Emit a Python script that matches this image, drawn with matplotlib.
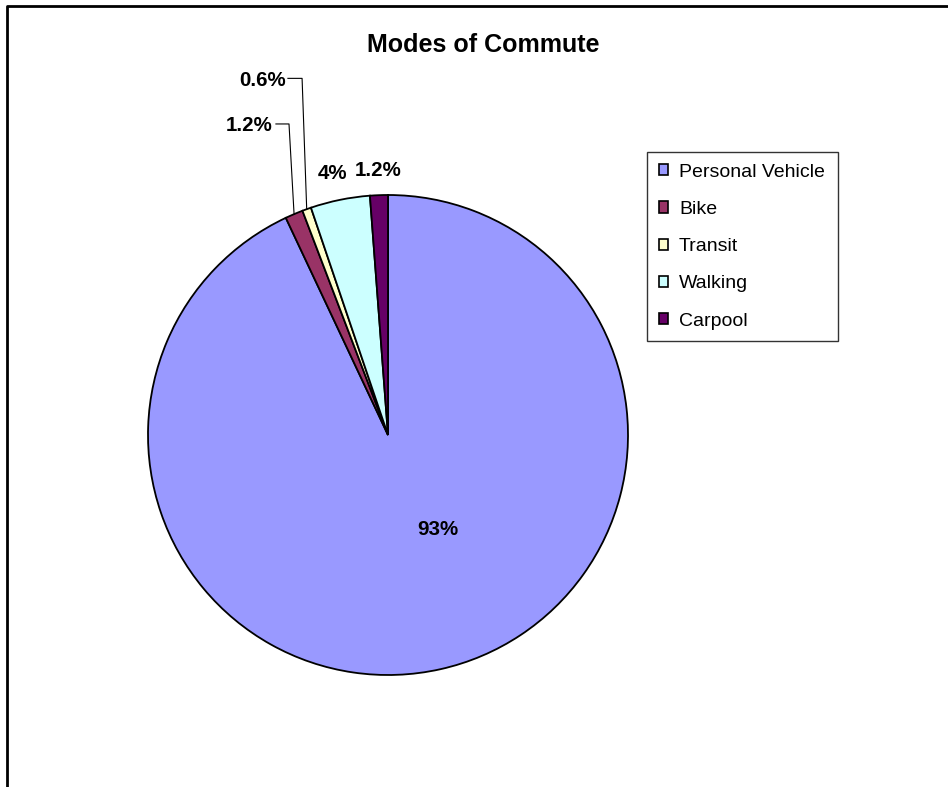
import matplotlib
matplotlib.use("Agg")
import matplotlib.pyplot as plt
from matplotlib.patches import Rectangle
from matplotlib.lines import Line2D
import numpy as np

plt.rcParams['font.family'] = ['Liberation Sans', 'DejaVu Sans']

# data
modes = ["Personal Vehicle", "Bike", "Transit", "Walking", "Carpool"]
shares = [93, 1.2, 0.6, 4, 1.2]
share_labels = ["93%", "1.2%", "0.6%", "4%", "1.2%"]
colors = ["#9999FF", "#993366", "#FFFFCC", "#CCFFFF", "#660066"]

# label layout (pie radius = 1), baseline anchored
label_pos = [(0.206, -0.417), (-0.577, 1.267), (-0.521, 1.454), (-0.231, 1.067), (-0.040, 1.079)]
# leader lines: (start, knee) for the slices that have one
leaders = {1: ((-0.467, 1.296), (-0.4125, 1.296)),
           2: ((-0.417, 1.486), (-0.358, 1.486))}

W, H = 948, 787
fig = plt.figure(figsize=(W / 100, H / 100), dpi=100)

scale = 240
cx, cy = 388, H - 435
x0, x1 = -1.6, 1.6
y0, y1 = -1.45, 1.8
ax = fig.add_axes([(cx + x0 * scale) / W, (cy + y0 * scale) / H,
                   (x1 - x0) * scale / W, (y1 - y0) * scale / H])

wedges, _ = ax.pie(shares, colors=colors, startangle=90, counterclock=False,
                   radius=1, wedgeprops=dict(edgecolor="black", linewidth=1.3))
ax.set_xlim(x0, x1)
ax.set_ylim(y0, y1)
ax.set_aspect("auto")
ax.axis("off")

for i, w in enumerate(wedges):
    x, y = label_pos[i]
    ax.text(x, y, share_labels[i], ha="center", va="baseline", fontsize=14.8,
            fontweight="bold", clip_on=False)
    if i in leaders:
        mid = np.deg2rad((w.theta1 + w.theta2) / 2)
        (sx, sy), (kx, ky) = leaders[i]
        ax.plot([sx, kx, np.cos(mid)], [sy, ky, np.sin(mid)], color="black",
                lw=0.8, clip_on=False)

fig.text(483 / W, 1 - 52 / H, "Modes of Commute", ha="center", va="baseline",
         fontsize=18, fontweight="bold")

handles = [Rectangle((0, 0), 1, 1, facecolor=c, edgecolor="black", linewidth=1.2)
           for c in colors]
leg = fig.legend(handles, modes, loc="upper left", mode="expand",
                 bbox_to_anchor=(647 / W, (H - 338) / H, 191 / W, 186 / H),
                 fontsize=14, handlelength=0.5, handleheight=0.5,
                 handletextpad=0.55, labelspacing=1.04, borderpad=0.6,
                 borderaxespad=0, fancybox=False, frameon=True)
leg.get_frame().set_edgecolor("black")
leg.get_frame().set_linewidth(1.0)

# chart area border (top and left visible)
fig.add_artist(Line2D([7 / W, 7 / W, 1], [0, 1 - 6 / H, 1 - 6 / H],
                      transform=fig.transFigure, color="black", lw=2))

fig.savefig("out.png", dpi=100)
